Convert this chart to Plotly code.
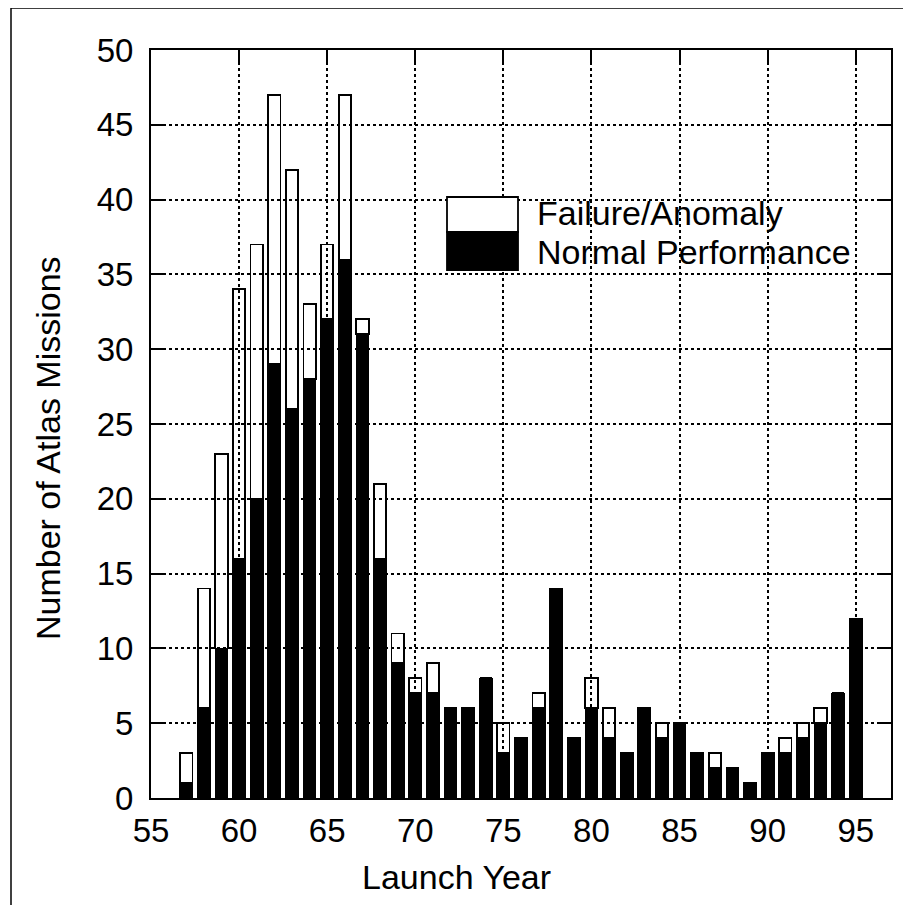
import plotly.graph_objects as go

years = list(range(57, 96))
normal = [1, 6, 10, 16, 20, 29, 26, 28, 32, 36, 31, 16, 9, 7, 7, 6, 6, 8, 3, 4,
          6, 14, 4, 6, 4, 3, 6, 4, 5, 3, 2, 2, 1, 3, 3, 4, 5, 7, 12]
failure = [2, 8, 13, 18, 17, 18, 16, 5, 5, 11, 1, 5, 2, 1, 2, 0, 0, 0, 2, 0,
           1, 0, 0, 2, 2, 0, 0, 1, 0, 0, 1, 0, 0, 0, 1, 1, 1, 0, 0]
x_ticks = [55, 60, 65, 70, 75, 80, 85, 90, 95]
y_ticks = [0, 5, 10, 15, 20, 25, 30, 35, 40, 45, 50]
legend_labels = ["Failure/Anomaly", "Normal Performance"]

# page has an 8px body margin; screen target coordinates below
OFF = 8
SW, SH = 911, 905
W, H = SW - OFF, SH - OFF
PL, PR, PT, PB = 151, 891, 50, 798   # plot area in screen px
L, R, T, B = PL - OFF, SW - PR, PT - OFF, SH - PB
pw, ph = PR - PL, PB - PT

def px(x):
    return (x - PL) / pw

def py(y):
    return (PB - y) / ph

FONT = "Liberation Sans, Arial, Helvetica, sans-serif"

fig = go.Figure()
fig.add_trace(go.Bar(
    x=years, y=normal, name=legend_labels[1], width=0.7,
    marker=dict(color="black", line=dict(color="black", width=1.5)),
))
fig.add_trace(go.Bar(
    x=years, y=failure, name=legend_labels[0], width=0.7,
    marker=dict(color="rgba(255,255,255,0)", line=dict(color="black", width=1.8)),
))

axis_common = dict(
    showline=True, linecolor="black", linewidth=2, mirror="ticks",
    ticks="inside", ticklen=14, tickwidth=2, tickcolor="black",
    showgrid=True, gridcolor="black", gridwidth=1.5, griddash="dot",
    zeroline=False, tickfont=dict(family=FONT, size=33, color="black"),
)

fig.update_xaxes(range=[55, 97], tickvals=x_ticks, ticktext=[str(v) for v in x_ticks],
                 ticklabelstandoff=2, **axis_common)
fig.update_yaxes(range=[0, 50], tickvals=y_ticks, ticktext=[str(v) for v in y_ticks],
                 ticklabelstandoff=9, **axis_common)

shapes = [
    # outer frame (top and left visible)
    dict(type="line", xref="paper", yref="paper", x0=px(11), x1=px(SW + 20), y0=py(8), y1=py(8),
         line=dict(color="black", width=1.5)),
    dict(type="line", xref="paper", yref="paper", x0=px(11), x1=px(11), y0=py(8), y1=py(SH + 20),
         line=dict(color="black", width=1.5)),
    # legend swatches
    dict(type="rect", xref="paper", yref="paper", x0=px(447), x1=px(518), y0=py(232), y1=py(197),
         fillcolor="white", line=dict(color="black", width=1.8), layer="above"),
    dict(type="rect", xref="paper", yref="paper", x0=px(447), x1=px(518), y0=py(270), y1=py(232),
         fillcolor="black", line=dict(color="black", width=1.8), layer="above"),
]

annotations = [
    dict(text=legend_labels[0], xref="paper", yref="paper", x=px(535), y=py(213),
         xanchor="left", yanchor="middle", showarrow=False,
         font=dict(family=FONT, size=34, color="black")),
    dict(text=legend_labels[1], xref="paper", yref="paper", x=px(535), y=py(252),
         xanchor="left", yanchor="middle", showarrow=False,
         font=dict(family=FONT, size=34, color="black")),
    dict(text="Launch Year", xref="paper", yref="paper", x=px(456), y=py(877),
         xanchor="center", yanchor="middle", showarrow=False,
         font=dict(family=FONT, size=34, color="black")),
    dict(text="Number of Atlas Missions", xref="paper", yref="paper", x=px(48), y=py(448),
         xanchor="center", yanchor="middle", showarrow=False, textangle=-90,
         font=dict(family=FONT, size=34, color="black")),
]

fig.update_layout(
    width=W, height=H, margin=dict(l=L, r=R, t=T, b=B),
    barmode="stack", showlegend=False,
    plot_bgcolor="white", paper_bgcolor="white",
    shapes=shapes, annotations=annotations,
    font=dict(family=FONT, size=32, color="black"),
)

fig.write_html("out.html")
